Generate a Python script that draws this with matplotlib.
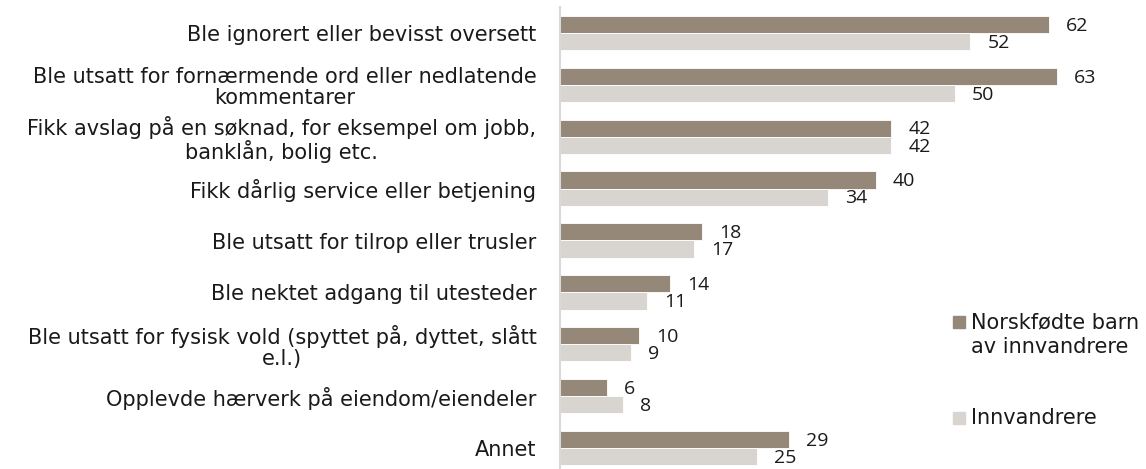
import matplotlib
matplotlib.use("Agg")
import matplotlib.pyplot as plt
import numpy as np

categories = [
    "Ble ignorert eller bevisst oversett",
    "Ble utsatt for fornærmende ord eller nedlatende\nkommentarer",
    "Fikk avslag på en søknad, for eksempel om jobb,\nbanklån, bolig etc.",
    "Fikk dårlig service eller betjening",
    "Ble utsatt for tilrop eller trusler",
    "Ble nektet adgang til utesteder",
    "Ble utsatt for fysisk vold (spyttet på, dyttet, slått\ne.l.)",
    "Opplevde hærverk på eiendom/eiendeler",
    "Annet",
]
norskfodte = [62, 63, 42, 40, 18, 14, 10, 6, 29]
innvandrere = [52, 50, 42, 34, 17, 11, 9, 8, 25]
series_names = ["Norskfødte barn\nav innvandrere", "Innvandrere"]

c_dark = "#958879"
c_light = "#d8d5d0"
txt = "#1a1a1a"
FS = 15

W, H = 1146, 469
fig = plt.figure(figsize=(W / 100, H / 100), dpi=100)
ax_left = 560 / W
ax_width = (70 * 7.89) / W
ax = fig.add_axes([ax_left, -5 / H, ax_width, 467 / H])

y = np.arange(len(categories))
h = 0.33
ax.barh(y - h / 2, norskfodte, height=h, color=c_dark, edgecolor="white", linewidth=0.6)
ax.barh(y + h / 2, innvandrere, height=h, color=c_light, edgecolor="white", linewidth=0.6)

ax.set_xlim(0, 70)
ax.set_ylim(len(categories) - 0.5, -0.5)
for s in ["top", "right", "bottom"]:
    ax.spines[s].set_visible(False)
ax.spines["left"].set_color("#d9d9d9")
ax.spines["left"].set_linewidth(1.5)
ax.set_xticks([])
ax.set_yticks(y)
ax.set_yticklabels(categories, fontsize=FS, family="DejaVu Sans", color=txt,
                   multialignment="center", linespacing=1.08)
ax.tick_params(axis="y", length=0, pad=17)

off = 17 / 7.89
for yi, v in zip(y, norskfodte):
    ax.text(v + off, yi - h / 2 + 0.025, str(v), va="center", ha="left",
            fontsize=14, family="Open Sans", color=txt)
for yi, v in zip(y, innvandrere):
    ax.text(v + off, yi + h / 2 + 0.025, str(v), va="center", ha="left",
            fontsize=14, family="Open Sans", color=txt)

# legend
fig.patches.append(plt.Rectangle((953 / W, 1 - 328 / H), 12 / W, 12 / H,
                                 transform=fig.transFigure, color=c_dark))
fig.text(971 / W, 1 - 322 / H, "Norskfødte barn", fontsize=FS, va="center",
         ha="left", family="DejaVu Sans", color=txt)
fig.text(971 / W, 1 - 347 / H, "av innvandrere", fontsize=FS, va="center",
         ha="left", family="DejaVu Sans", color=txt)
fig.patches.append(plt.Rectangle((953 / W, 1 - 424 / H), 12 / W, 12 / H,
                                 transform=fig.transFigure, color=c_light))
fig.text(971 / W, 1 - 418 / H, "Innvandrere", fontsize=FS, va="center",
         ha="left", family="DejaVu Sans", color=txt)

fig.savefig("out.png", dpi=100)
